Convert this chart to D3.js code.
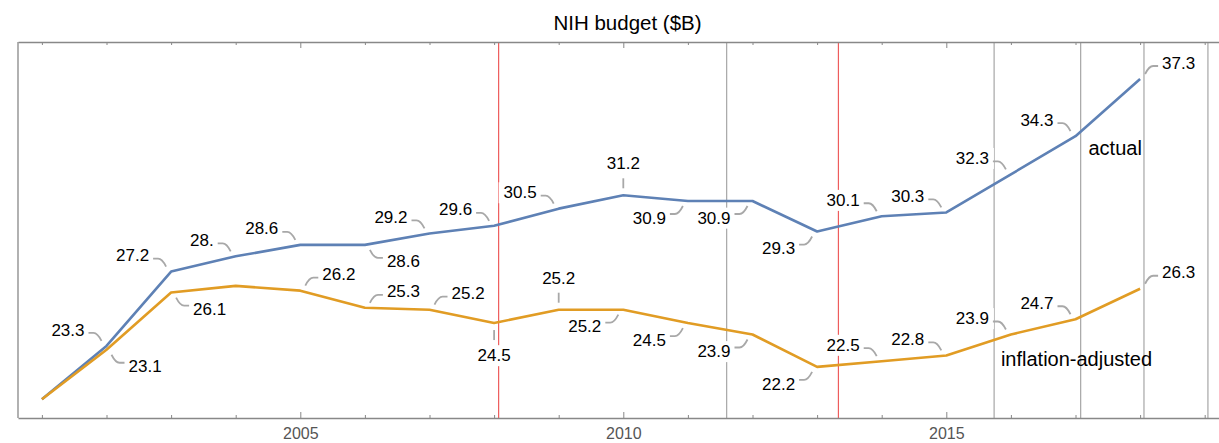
<!DOCTYPE html>
<html>
<head>
<meta charset="utf-8">
<script src="https://cdn.jsdelivr.net/npm/d3@7"></script>
<style>
body{margin:0;background:#fff;}
text{font-family:'Liberation Sans',Arial,sans-serif;}
</style>
</head>
<body>
<div class="canvas"></div>
<script>
// data
const years=[2001,2002,2003,2004,2005,2006,2007,2008,2009,2010,2011,2012,2013,2014,2015,2016,2017,2018];
const actual=[20.5,23.3,27.2,28.0,28.6,28.6,29.2,29.6,30.5,31.2,30.9,30.9,29.3,30.1,30.3,32.3,34.3,37.3];
const adjusted=[20.5,23.1,26.1,26.45,26.2,25.3,25.2,24.5,25.2,25.2,24.5,23.9,22.2,22.5,22.8,23.9,24.7,26.3];
// where each callout sits (null = no callout)
const actualCallout=[null,'nw','nw','nw','nw','se','nw','nw','nw','n','sw','sw','sw','nw','nw','nw','nw','ne'];
const adjustedCallout=[null,'se','se',null,'ne','ne','ne','s','n','sw','sw','sw','sw','nw','nw','nw','nw','ne'];
const redLines=[2008.07,2013.33];
const grayLines=[2011.6,2015.74,2017.08,2018.06,2019.05];
const majorTicks=[2005,2010,2015];
const minorTicks=[2001,2002,2003,2004,2006,2007,2008,2009,2011,2012,2013,2014,2016,2017,2018,2019];

const W=1219,H=443;
const plotLeft=18,plotTop=42,plotBottom=418;

const svg=d3.select('.canvas').append('svg')
  .attr('width',W)
  .attr('height',H);

const x=d3.scaleLinear().domain([2000.63,2019.5]).range([plotLeft,plotLeft+18.87*64.6]);
const y=d3.scaleLinear().domain([19.52,39.24]).range([plotBottom,plotTop]);
const plotRight=x(2019.5);

// title
svg.append('text')
  .attr('x',(plotLeft+plotRight)/2)
  .attr('y',30)
  .attr('text-anchor','middle')
  .attr('font-size',20.5)
  .attr('fill','#000')
  .text('NIH budget ($B)');

// vertical marker lines
svg.append('g').selectAll('line').data(grayLines).join('line')
  .attr('x1',d=>x(d)).attr('x2',d=>x(d))
  .attr('y1',plotTop).attr('y2',plotBottom)
  .attr('stroke','#a6a6a6').attr('stroke-width',1.2);
svg.append('g').selectAll('line').data(redLines).join('line')
  .attr('x1',d=>x(d)).attr('x2',d=>x(d))
  .attr('y1',plotTop).attr('y2',plotBottom)
  .attr('stroke','#ee5c5c').attr('stroke-width',1.2);

// frame with ticks
const frame=svg.append('g');
const bottomAxis=d3.axisBottom(x).tickValues(majorTicks).tickFormat(d3.format('d')).tickSizeInner(-6).tickSizeOuter(0).tickPadding(9.5);
frame.append('g').attr('transform',`translate(0,${plotBottom})`).call(bottomAxis)
  .call(g=>g.select('.domain').attr('stroke','#888').attr('stroke-width',1.3))
  .call(g=>g.selectAll('.tick line').attr('stroke','#888'))
  .call(g=>g.selectAll('.tick text').attr('font-size',16).attr('fill','#555').attr('font-family','Liberation Sans,Arial,sans-serif'));
frame.append('g').attr('transform',`translate(0,${plotBottom})`)
  .call(d3.axisBottom(x).tickValues(minorTicks).tickFormat('').tickSizeInner(-3).tickSizeOuter(0))
  .call(g=>g.select('.domain').remove())
  .call(g=>g.selectAll('.tick line').attr('stroke','#888'));
frame.append('g').attr('transform',`translate(0,${plotTop})`)
  .call(d3.axisTop(x).tickValues(majorTicks).tickFormat('').tickSizeInner(-6).tickSizeOuter(0))
  .call(g=>g.select('.domain').attr('stroke','#888').attr('stroke-width',1.3))
  .call(g=>g.selectAll('.tick line').attr('stroke','#888'));
frame.append('g').attr('transform',`translate(0,${plotTop})`)
  .call(d3.axisTop(x).tickValues(minorTicks).tickFormat('').tickSizeInner(-3).tickSizeOuter(0))
  .call(g=>g.select('.domain').remove())
  .call(g=>g.selectAll('.tick line').attr('stroke','#888'));
frame.append('line')
  .attr('x1',plotLeft).attr('x2',plotLeft).attr('y1',plotTop).attr('y2',plotBottom)
  .attr('stroke','#888').attr('stroke-width',1.3);

// lines
const line=d3.line().x((d,i)=>x(years[i])).y(d=>y(d));
svg.append('path').datum(actual)
  .attr('d',line).attr('fill','none')
  .attr('stroke','#5e81b5').attr('stroke-width',2.6).attr('stroke-linejoin','round');
svg.append('path').datum(adjusted)
  .attr('d',line).attr('fill','none')
  .attr('stroke','#e19c24').attr('stroke-width',2.6).attr('stroke-linejoin','round');

// callouts
const fmt=v=>Number.isInteger(v)?v+'.':d3.format('.1f')(v);
function callouts(values,dirs){
  const g=svg.append('g');
  values.forEach((v,i)=>{
    const d=dirs[i];
    if(!d) return;
    const px=x(years[i]),py=y(v);
    const c=g.append('g').attr('transform',`translate(${px},${py})`);
    let path,tx,ty,anchor;
    if(d==='n'||d==='s'){
      const s=d==='n'?-1:1;
      path=`M0,${s*7}L0,${s*17}`;
      tx=0;ty=s*32;anchor='middle';
    }else{
      const sx=d.includes('w')?-1:1;
      const sy=d.includes('n')?-1:1;
      path=`M${sx*5},${sy*5}Q${sx*9},${sy*13} ${sx*13},${sy*13}L${sx*18},${sy*13}`;
      tx=sx*22;ty=sy*16.5;anchor=sx<0?'end':'start';
    }
    const bg=c.append('rect').attr('fill','#fff');
    const t=c.append('text')
      .attr('x',tx).attr('y',ty).attr('dy','0.36em')
      .attr('text-anchor',anchor)
      .attr('font-size',17).attr('fill','#000')
      .text(fmt(v));
    const b=t.node().getBBox();
    bg.attr('x',b.x-5).attr('y',b.y-1).attr('width',b.width+10).attr('height',b.height+2);
    c.append('path').attr('d',path)
      .attr('fill','none').attr('stroke','#a8a8a8').attr('stroke-width',1.8);
  });
}
callouts(actual,actualCallout);
callouts(adjusted,adjustedCallout);

// line labels
svg.append('text')
  .attr('x',x(2017)+13).attr('y',y(34.3)+19)
  .attr('font-size',20).attr('fill','#000')
  .text('actual');
svg.append('text')
  .attr('x',x(2016)-10).attr('y',y(23.9)+32)
  .attr('font-size',20).attr('fill','#000')
  .text('inflation-adjusted');
</script>
</body>
</html>
